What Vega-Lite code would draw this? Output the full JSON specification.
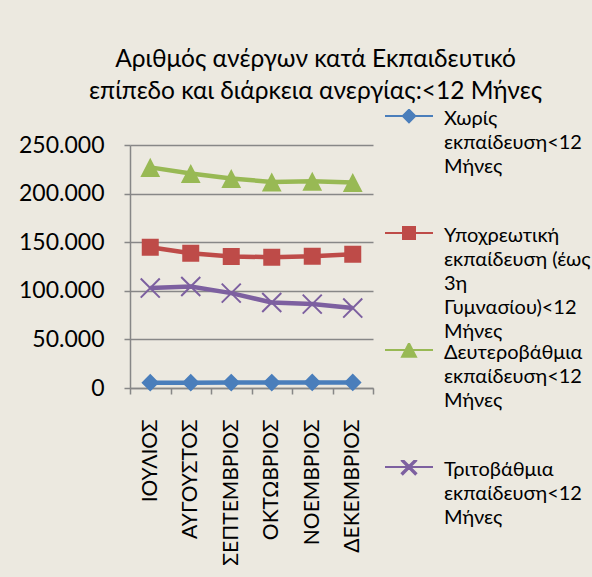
{
  "$schema": "https://vega.github.io/schema/vega-lite/v6.json",
  "width": 243,
  "height": 243,
  "autosize": {"type": "none"},
  "padding": {"left": 130, "top": 145, "right": 219, "bottom": 189},
  "background": "#ECE9E0",
  "config": {
    "view": {"stroke": null},
    "font": "Lato",
    "locale": {"number": {"decimal": ",", "thousands": ".", "grouping": [3], "currency": ["", " €"]}}
  },
  "title": {
    "text": ["Αριθμός ανέργων κατά Εκπαιδευτικό", "επίπεδο και διάρκεια ανεργίας:<12 Μήνες"],
    "font": "Lato",
    "fontSize": 24.5,
    "fontWeight": "normal",
    "color": "#000000",
    "lineHeight": 32,
    "anchor": "middle",
    "frame": "group",
    "dx": 64,
    "offset": 5
  },
  "data": {
    "values": [
      {"month": "ΙΟΥΛΙΟΣ", "series": "Χωρίς εκπαίδευση<12 Μήνες", "value": 5500},
      {"month": "ΑΥΓΟΥΣΤΟΣ", "series": "Χωρίς εκπαίδευση<12 Μήνες", "value": 5500},
      {"month": "ΣΕΠΤΕΜΒΡΙΟΣ", "series": "Χωρίς εκπαίδευση<12 Μήνες", "value": 5600},
      {"month": "ΟΚΤΩΒΡΙΟΣ", "series": "Χωρίς εκπαίδευση<12 Μήνες", "value": 5600},
      {"month": "ΝΟΕΜΒΡΙΟΣ", "series": "Χωρίς εκπαίδευση<12 Μήνες", "value": 5700},
      {"month": "ΔΕΚΕΜΒΡΙΟΣ", "series": "Χωρίς εκπαίδευση<12 Μήνες", "value": 5700},
      {"month": "ΙΟΥΛΙΟΣ", "series": "Υποχρεωτική εκπαίδευση (έως 3η Γυμνασίου)<12 Μήνες", "value": 144700},
      {"month": "ΑΥΓΟΥΣΤΟΣ", "series": "Υποχρεωτική εκπαίδευση (έως 3η Γυμνασίου)<12 Μήνες", "value": 138700},
      {"month": "ΣΕΠΤΕΜΒΡΙΟΣ", "series": "Υποχρεωτική εκπαίδευση (έως 3η Γυμνασίου)<12 Μήνες", "value": 135300},
      {"month": "ΟΚΤΩΒΡΙΟΣ", "series": "Υποχρεωτική εκπαίδευση (έως 3η Γυμνασίου)<12 Μήνες", "value": 134600},
      {"month": "ΝΟΕΜΒΡΙΟΣ", "series": "Υποχρεωτική εκπαίδευση (έως 3η Γυμνασίου)<12 Μήνες", "value": 135600},
      {"month": "ΔΕΚΕΜΒΡΙΟΣ", "series": "Υποχρεωτική εκπαίδευση (έως 3η Γυμνασίου)<12 Μήνες", "value": 137700},
      {"month": "ΙΟΥΛΙΟΣ", "series": "Δευτεροβάθμια εκπαίδευση<12 Μήνες", "value": 227000},
      {"month": "ΑΥΓΟΥΣΤΟΣ", "series": "Δευτεροβάθμια εκπαίδευση<12 Μήνες", "value": 220600},
      {"month": "ΣΕΠΤΕΜΒΡΙΟΣ", "series": "Δευτεροβάθμια εκπαίδευση<12 Μήνες", "value": 215500},
      {"month": "ΟΚΤΩΒΡΙΟΣ", "series": "Δευτεροβάθμια εκπαίδευση<12 Μήνες", "value": 212000},
      {"month": "ΝΟΕΜΒΡΙΟΣ", "series": "Δευτεροβάθμια εκπαίδευση<12 Μήνες", "value": 212700},
      {"month": "ΔΕΚΕΜΒΡΙΟΣ", "series": "Δευτεροβάθμια εκπαίδευση<12 Μήνες", "value": 211500},
      {"month": "ΙΟΥΛΙΟΣ", "series": "Τριτοβάθμια εκπαίδευση<12 Μήνες", "value": 102800},
      {"month": "ΑΥΓΟΥΣΤΟΣ", "series": "Τριτοβάθμια εκπαίδευση<12 Μήνες", "value": 104400},
      {"month": "ΣΕΠΤΕΜΒΡΙΟΣ", "series": "Τριτοβάθμια εκπαίδευση<12 Μήνες", "value": 97600},
      {"month": "ΟΚΤΩΒΡΙΟΣ", "series": "Τριτοβάθμια εκπαίδευση<12 Μήνες", "value": 88000},
      {"month": "ΝΟΕΜΒΡΙΟΣ", "series": "Τριτοβάθμια εκπαίδευση<12 Μήνες", "value": 86300},
      {"month": "ΔΕΚΕΜΒΡΙΟΣ", "series": "Τριτοβάθμια εκπαίδευση<12 Μήνες", "value": 82200}
    ]
  },
  "encoding": {
    "x": {
      "field": "month",
      "type": "nominal",
      "sort": null,
      "scale": {"paddingInner": 0, "paddingOuter": 0},
      "axis": {
        "title": null,
        "tickBand": "extent",
        "domainColor": "#878787",
        "domainWidth": 1.5,
        "tickColor": "#878787",
        "tickWidth": 1.5,
        "tickSize": 6,
        "labelAngle": -90,
        "labelAlign": "right",
        "labelBaseline": "middle",
        "labelPadding": 25,
        "labelFont": "Lato",
        "labelFontSize": 21,
        "labelColor": "#000000",
        "labelLimit": 300
      }
    },
    "y": {
      "field": "value",
      "type": "quantitative",
      "scale": {"domain": [0, 250000], "nice": false},
      "axis": {
        "title": null,
        "values": [0, 50000, 100000, 150000, 200000, 250000],
        "format": ",d",
        "domainColor": "#878787",
        "domainWidth": 1.5,
        "tickColor": "#878787",
        "tickWidth": 1.5,
        "tickSize": 6,
        "grid": true,
        "gridColor": "#878787",
        "gridWidth": 1.5,
        "labelPadding": 20,
        "labelFont": "Lato",
        "labelFontSize": 23,
        "labelColor": "#000000"
      }
    },
    "color": {
      "field": "series",
      "type": "nominal",
      "sort": null,
      "scale": {
        "domain": ["Χωρίς εκπαίδευση<12 Μήνες", "Υποχρεωτική εκπαίδευση (έως 3η Γυμνασίου)<12 Μήνες", "Δευτεροβάθμια εκπαίδευση<12 Μήνες", "Τριτοβάθμια εκπαίδευση<12 Μήνες"],
        "range": ["#4A7EBB", "#BE4B48", "#98B954", "#7D60A0"]
      },
      "legend": {
        "title": null,
        "orient": "none",
        "legendX": 254,
        "legendY": -36,
        "clipHeight": 14,
        "rowPadding": 0,
        "symbolSize": 2304,
        "symbolStrokeWidth": 2,
        "labelOffset": 10,
        "labelFont": "Lato",
        "labelFontSize": 20,
        "labelColor": "#000000",
        "labelLimit": 400,
        "labelBaseline": "top",
        "labelExpr": "split(replace(datum.label, ' (', '\u00a0('), ' ')",
        "encode": {
          "entries": {"update": {"clip": {"value": true}, "width": {"value": 230}, "height": {"value": 117}}},
          "symbols": {"update": {"stroke": {"scale": "color", "field": "value"}, "strokeWidth": {"value": 2}, "opacity": {"value": 1}}},
          "labels": {"update": {"lineHeight": {"value": 24}, "dy": {"value": -7}}}
        }
      }
    }
  },
  "layer": [
    {
      "mark": {"type": "line", "strokeWidth": 4.5}
    },
    {
      "mark": {"type": "point", "filled": true, "opacity": 1, "size": 4624},
      "encoding": {
        "shape": {
          "field": "series",
          "type": "nominal",
          "sort": null,
          "scale": {
            "domain": ["Χωρίς εκπαίδευση<12 Μήνες", "Υποχρεωτική εκπαίδευση (έως 3η Γυμνασίου)<12 Μήνες", "Δευτεροβάθμια εκπαίδευση<12 Μήνες", "Τριτοβάθμια εκπαίδευση<12 Μήνες"],
            "range": [
              "M-1,0H1M0,-0.26L0.26,0L0,0.26L-0.26,0Z",
              "M-1,0H1M-0.25,-0.25H0.25V0.25H-0.25Z",
              "M-1,0H1M0,-0.28L0.29,0.28L-0.29,0.28Z",
              "M-1,0H1M-0.259,-0.301L0.301,0.259L0.259,0.301L-0.301,-0.259ZM-0.301,0.259L0.259,-0.301L0.301,-0.259L-0.259,0.301Z"
            ]
          }
        }
      }
    }
  ]
}
